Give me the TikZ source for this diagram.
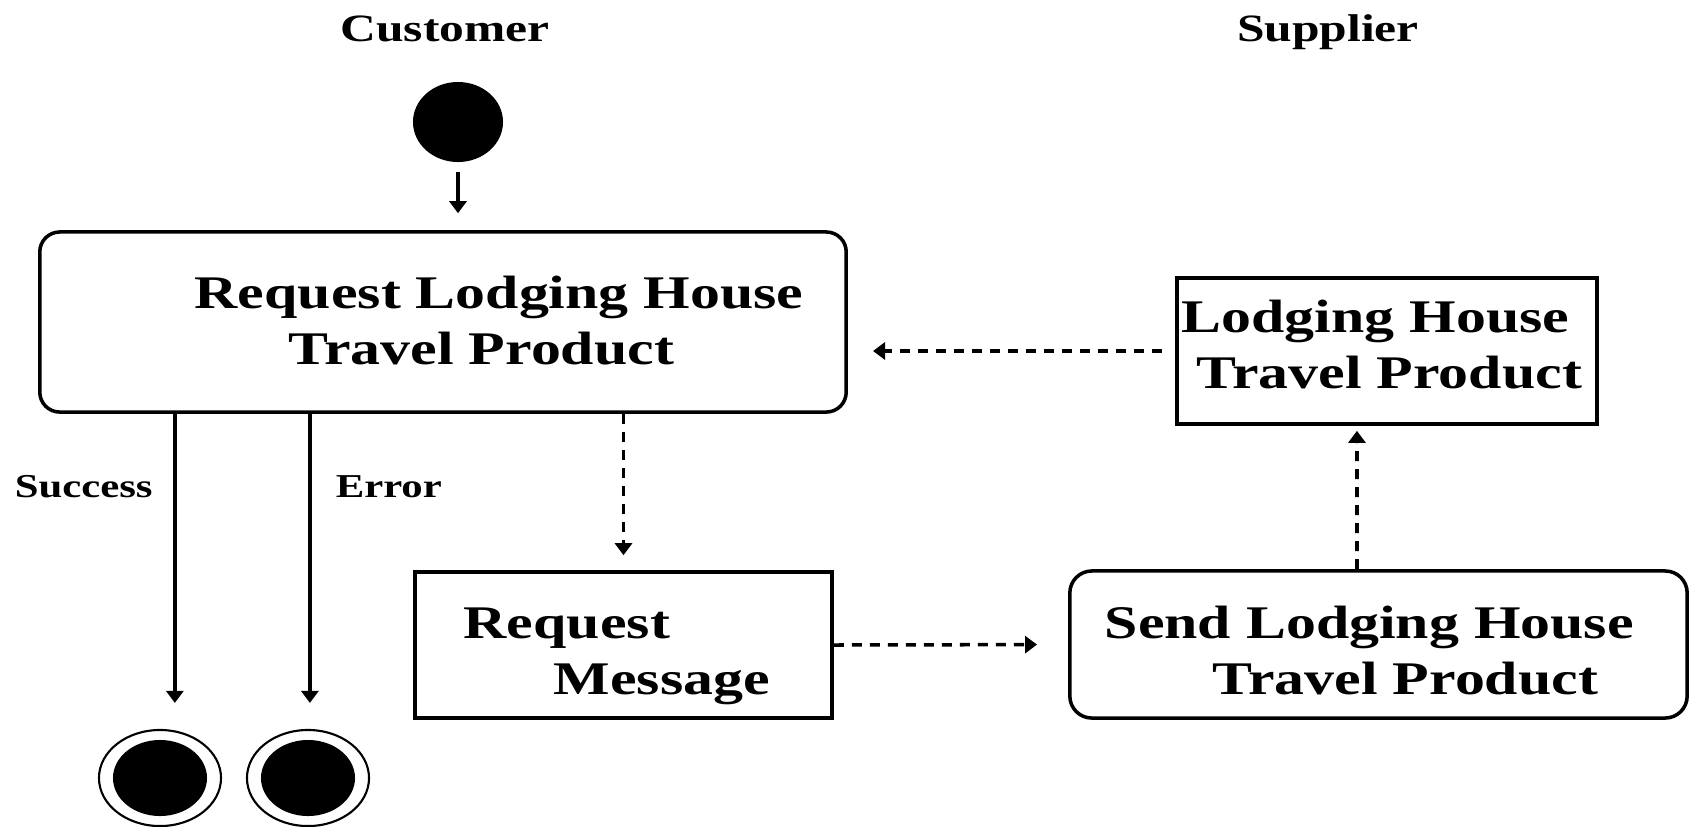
\documentclass[tikz,border=0pt]{standalone}
\usepackage{fontspec}
\setmainfont{Liberation Serif}[FakeStretch=1.28]
\usetikzlibrary{shapes, positioning, arrows.meta}

\begin{document}
\begin{tikzpicture}[
    x=0.01cm, y=-0.01cm, line width=1pt,
    state/.style={rectangle, draw=black, rounded corners=0.2cm, fill=none, inner sep=0pt},
    msgbox/.style={rectangle, draw=black, fill=none, inner sep=0pt},
    caption/.style={font=\fontsize{13.3}{15.9}\selectfont\bfseries, align=left,
        inner sep=0pt, anchor=base west},
    lane/.style={font=\fontsize{11}{13}\selectfont\bfseries, inner sep=0pt, anchor=base},
    guard/.style={font=\fontsize{9.5}{11}\selectfont\bfseries, inner sep=0pt, anchor=base west},
    start/.style={ellipse, fill=black, minimum width=0.9cm, minimum height=0.8cm, inner sep=0pt},
    finish/.style={ellipse, draw=black, line width=0.6pt, minimum width=1.22cm,
        minimum height=0.96cm, inner sep=0pt,
        path picture={\fill[black] (path picture bounding box.center)
            ellipse [x radius=0.47cm, y radius=0.38cm];}},
    flow/.style={-{Triangle[width=0.17cm,length=0.12cm]}},
    msgflow/.style={flow, dash pattern=on 0.1cm off 0.08cm}
]
\useasboundingbox (0,0) rectangle (1690,826);

% swimlane titles
\node[lane] (Cust) at (445,41) {Customer};
\node[lane] (Supp) at (1328,41) {Supplier};

% customer side (captions placed at the baseline of their last line)
\node[start] (Init) at (458,122) {};
\node[state, minimum width=8.06cm, minimum height=1.8cm] (Req) at (443,322) {};
\node[caption] (ReqTxt) at (193,364) {Request Lodging House\\\hspace*{0.94cm}Travel Product};
\node[msgbox, minimum width=4.17cm, minimum height=1.46cm] (Msg) at (623.5,645) {};
\node[caption] (MsgTxt) at (462,694) {Request\\\hspace*{0.9cm}Message};
\node[finish] (End1) at (160,778) {};
\node[finish] (End2) at (308,778) {};
\node[guard] (Succ) at (13,497) {Success};
\node[guard] (Err) at (334,497) {Error};

% supplier side
\node[msgbox, minimum width=4.2cm, minimum height=1.46cm] (House) at (1387,351) {};
\node[caption] (HouseTxt) at (1180,388) {Lodging House\\\hspace*{0.15cm}Travel Product};
\node[state, rounded corners=0.22cm, minimum width=6.17cm, minimum height=1.47cm] (Send) at (1378.5,644.5) {};
\node[caption] (SendTxt) at (1103,694) {Send Lodging House\\\hspace*{1.08cm}Travel Product};

% transitions
\draw[flow, shorten <=0.08cm, shorten >=0.17cm] (Init) -- (Init |- Req.north);
\draw[flow, shorten >=0.26cm] ([xshift=-2.68cm]Req.south) -- ([xshift=-2.68cm]Req.south |- End1.north);
\draw[flow, shorten >=0.26cm] ([xshift=-1.33cm]Req.south) -- ([xshift=-1.33cm]Req.south |- End2.north);

% messages
\draw[msgflow, shorten >=0.15cm] (Msg |- Req.south) -- (Msg.north);
\draw[msgflow, shorten >=0.31cm] (Msg.east) -- (Send.west);
\draw[msgflow, shorten >=0.05cm] ([xshift=-0.215cm]Send.north) -- ([xshift=-0.3cm]House.south);
\draw[msgflow, shorten <=0.13cm, shorten >=0.25cm] (House.west) -- (Req.east |- House.west);

\end{tikzpicture}
\end{document}
